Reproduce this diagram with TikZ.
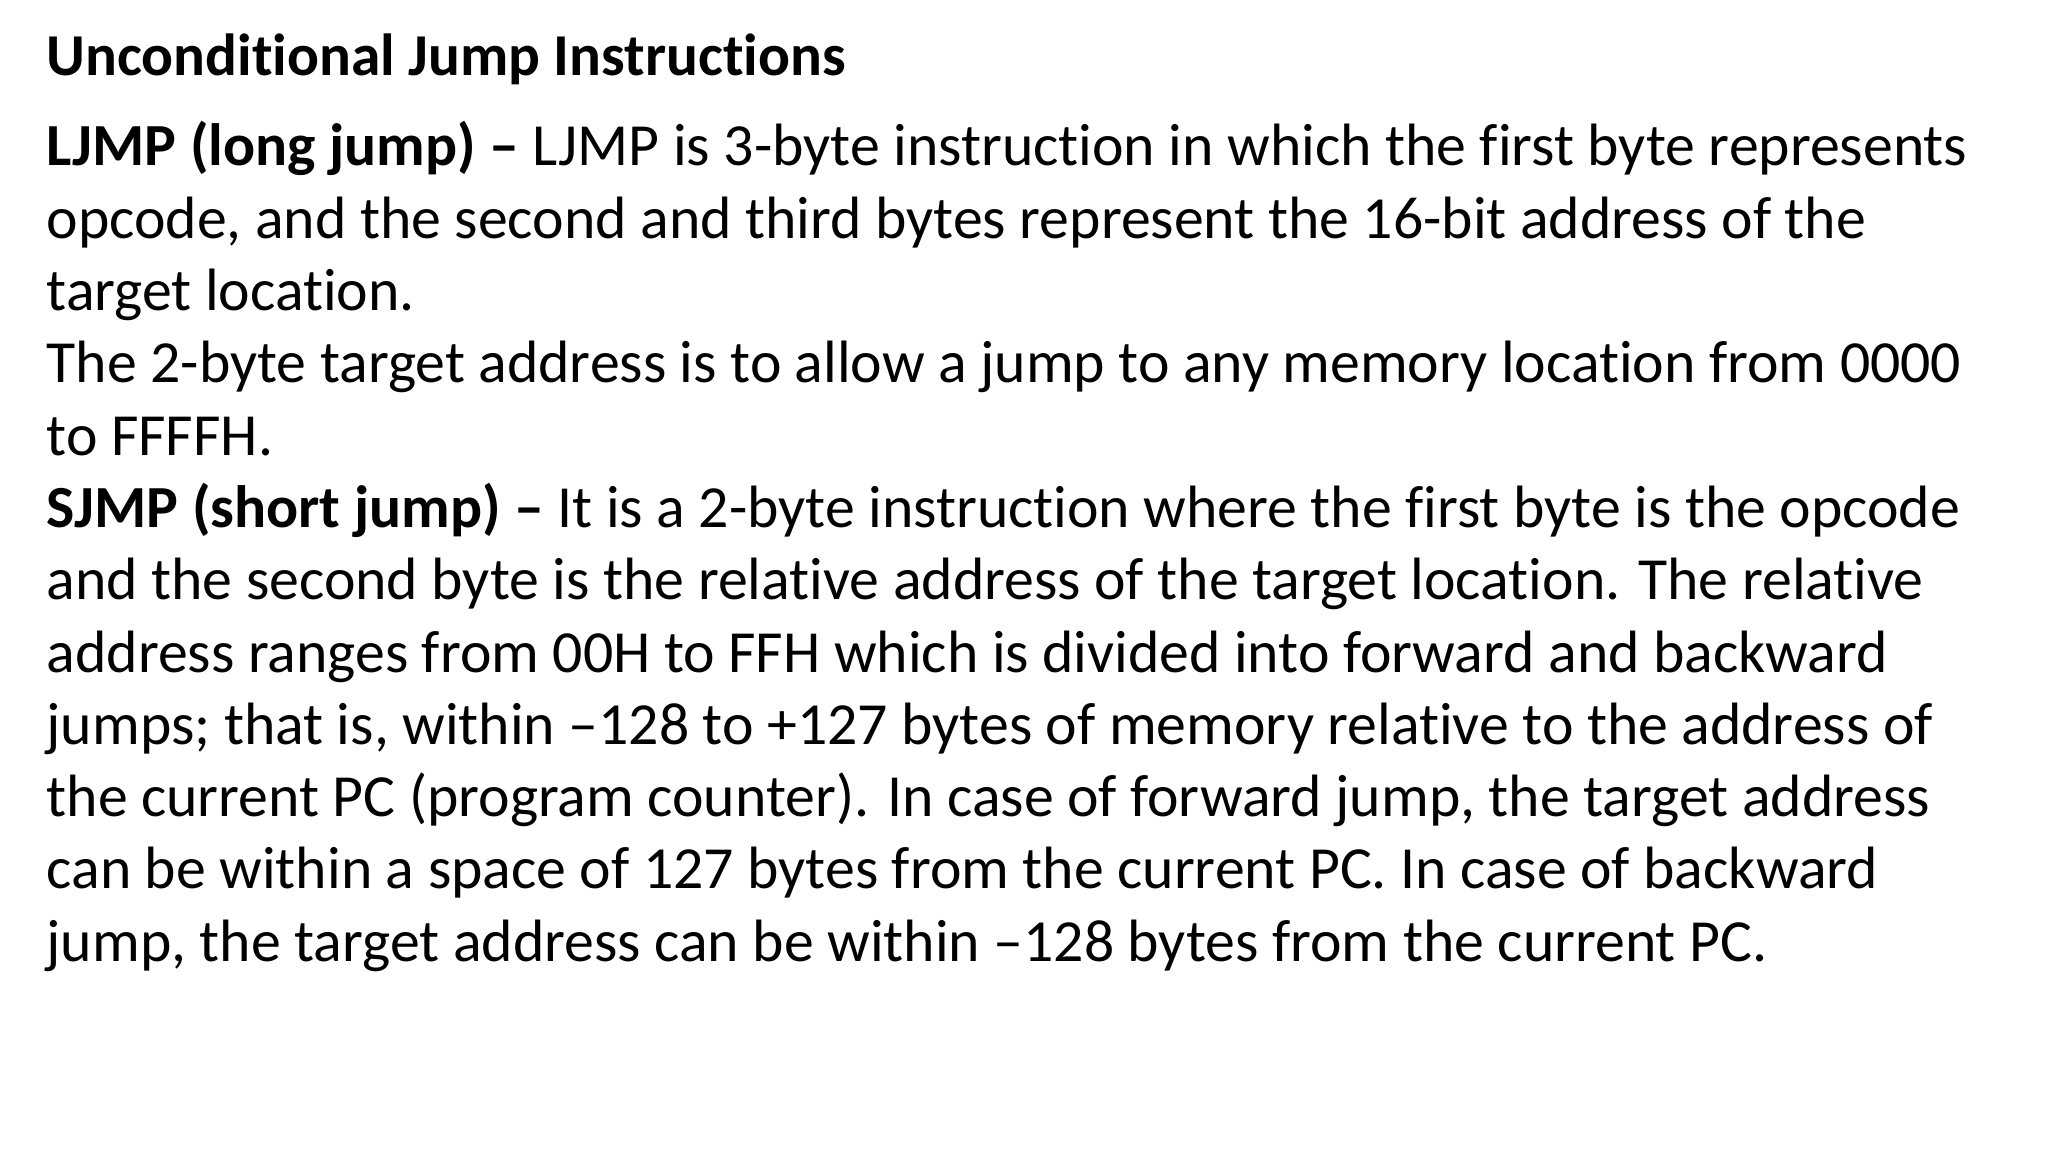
\documentclass[tikz,border=0pt]{standalone}
\usepackage{fontspec}
\setmainfont[RawFeature=-liga]{Carlito}
\begin{document}
\begin{tikzpicture}[x=1cm,y=1cm,
  ln/.style={anchor=base west,inner sep=0pt,font=\fontsize{17pt}{20pt}\selectfont}]
\useasboundingbox[fill=white] (0,0) rectangle (20.48,11.52);
\node[ln,font=\fontsize{16.9pt}{20pt}\selectfont\bfseries] (t) at (0.46,10.76) {Unconditional Jump Instructions};
\foreach \i/\s in {
0/{\textbf{LJMP (long jump) –} LJMP is 3-byte instruction in which the first byte represents},
1/{opcode, and the second and third bytes represent the 16-bit address of the},
2/{target location.},
3/{The 2-byte target address is to allow a jump to any memory location from 0000},
4/{to FFFFH.},
5/{\textbf{SJMP (short jump) –} It is a 2-byte instruction where the first byte is the opcode},
6/{and the second byte is the relative address of the target location. The relative},
7/{address ranges from 00H to FFH which is divided into forward and backward},
8/{jumps; that is, within –128 to +127 bytes of memory relative to the address of},
9/{the current PC (program counter). In case of forward jump, the target address},
10/{can be within a space of 127 bytes from the current PC. In case of backward},
11/{jump, the target address can be within –128 bytes from the current PC.}}
{\node[ln] (l\i) at (0.46,{9.86-0.723*\i}) {\s};}
\end{tikzpicture}
\end{document}
